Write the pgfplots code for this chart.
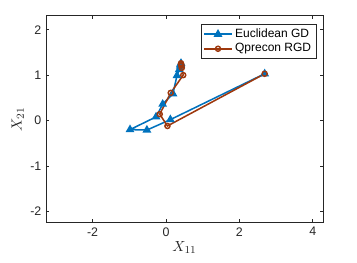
\documentclass[border=0pt]{standalone}
\usepackage{fontspec}
\setmainfont{Liberation Sans}
\usepackage{pgfplots}
\pgfplotsset{compat=1.18}
\definecolor{mblue}{rgb}{0,0.447,0.741}
\definecolor{mbrown}{rgb}{0.62,0.22,0.05}
\definecolor{axgray}{rgb}{0.15,0.15,0.15}
\begin{document}
\begin{tikzpicture}
\useasboundingbox (-34.5pt,-29.8pt) rectangle (233.25pt,167pt);
\begin{axis}[
  at={(0,0)}, anchor=south west,
  scale only axis, width=207.75pt, height=155.25pt,
  xmin=-3.27, xmax=4.28, ymin=-2.25, ymax=2.31,
  xtick={-2,0,2,4}, ytick={-2,-1,0,1,2},
  tick align=inside, major tick length=2.5pt,
  axis line style={axgray, line width=0.4pt},
  tick style={axgray, line width=0.4pt},
  tick label style={font=\fontsize{9.3}{10}\selectfont, text=axgray},
  /pgf/number format/assume math mode=true,
  xlabel={$X_{11}$}, ylabel={$X_{21}$},
  label style={font=\fontsize{11}{13}\selectfont, text=axgray},
  xlabel style={yshift=3pt},
  ylabel style={yshift=-2pt},
  legend style={at={(0.975,0.96)}, anchor=north east, font=\fontsize{9}{10}\selectfont,
    draw=axgray, line width=0.4pt, inner sep=1.5pt, row sep=-1pt,
    cells={anchor=west}},
  legend image code/.code={
    \draw[mark repeat=2,mark phase=2] plot coordinates {(0cm,0cm) (0.36cm,0cm) (0.72cm,0cm)};},
  legend cell align=left,
]
\addplot[mblue, line width=1.15pt, mark=triangle*, mark size=2.7pt, mark options={solid, fill=mblue}]
coordinates {
(2.69,1.03) (0.12,0.02) (-0.52,-0.21) (-0.98,-0.2) (-0.27,0.08) (-0.09,0.36)
(0.19,0.59) (0.30,0.99) (0.36,1.12) (0.39,1.2) (0.40,1.24) (0.41,1.26)
};
\addlegendentry{Euclidean GD}
\addplot[mbrown, line width=1.15pt, mark=o, mark size=1.9pt, mark options={solid, line width=1.1pt, fill=mbrown!65}]
coordinates {
(2.69,1.03) (0.04,-0.12) (-0.17,0.14) (0.13,0.61) (0.47,1.0) (0.43,1.16)
(0.42,1.21) (0.41,1.24) (0.41,1.26)
};
\addlegendentry{Qprecon RGD}
\end{axis}
\end{tikzpicture}
\end{document}
